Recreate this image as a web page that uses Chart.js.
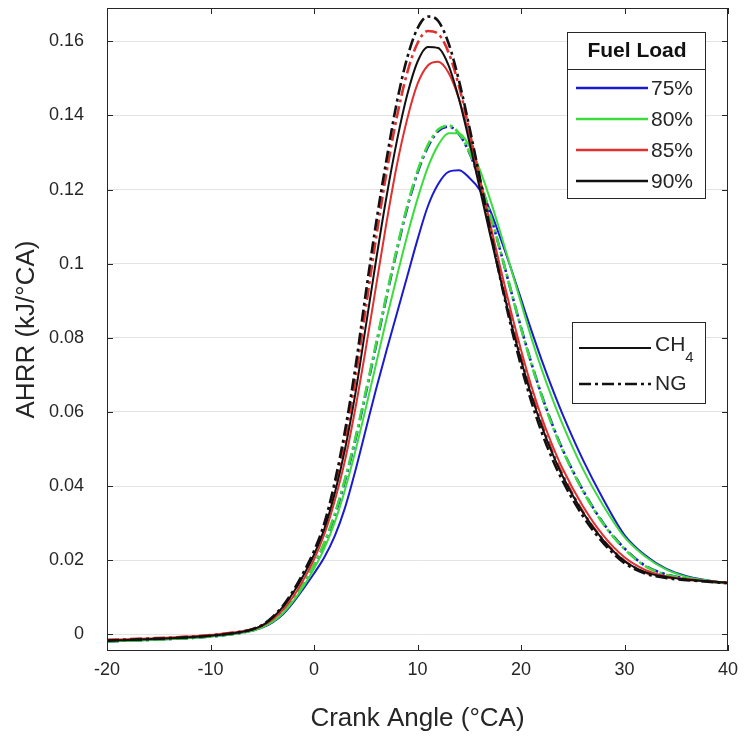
<!DOCTYPE html>
<html>
<head>
<meta charset="utf-8">
<script src="https://cdn.jsdelivr.net/npm/chart.js@4.4.0/dist/chart.umd.min.js"></script>
<style>
html, body { margin: 0; padding: 0; background: #fff; }
</style>
</head>
<body>
<canvas id="myChart" width="747" height="738"></canvas>
<script>
var crankAngle = [-20, -16, -12, -10, -8, -6, -5, -4, -3, -2, -1, 0, 1, 2, 3, 4, 5, 6, 7, 8, 9, 10,
    11, 12, 13, 14, 15, 16, 17, 18, 19, 20, 21, 22, 23, 24, 26, 28, 30, 32, 34, 36, 38, 40];

var ch4_75 = [-0.0019, -0.0015, -0.001, -0.0006, 0.0, 0.001, 0.0018, 0.0032, 0.0054, 0.0086, 0.0124, 0.0164, 0.0208, 0.0265, 0.0342, 0.0442, 0.0552, 0.0662, 0.0765, 0.0865, 0.0965, 0.1065,
    0.1155, 0.1215, 0.1248, 0.1252, 0.1232, 0.120, 0.1145, 0.107, 0.099, 0.0905, 0.082, 0.074, 0.0665, 0.0595, 0.047, 0.0362, 0.0268, 0.0213, 0.0177, 0.0157, 0.0146, 0.0138];
var ch4_80 = [-0.0019, -0.0015, -0.001, -0.0006, 0.0, 0.001, 0.0019, 0.0034, 0.0057, 0.009, 0.013, 0.0177, 0.0232, 0.0302, 0.039, 0.0495, 0.061, 0.073, 0.085, 0.0965, 0.1075, 0.1175,
    0.126, 0.132, 0.1352, 0.1352, 0.1318, 0.1255, 0.1175, 0.1085, 0.099, 0.0895, 0.080, 0.0715, 0.0638, 0.0568, 0.0445, 0.0345, 0.0262, 0.021, 0.0175, 0.0155, 0.0145, 0.0138];
var ch4_85 = [-0.0015, -0.0011, -0.0006, -0.0002, 0.0004, 0.0013, 0.0023, 0.004, 0.0066, 0.0102, 0.0148, 0.0202, 0.027, 0.036, 0.047, 0.061, 0.077, 0.094, 0.111, 0.1265, 0.139, 0.1485,
    0.1535, 0.1545, 0.1515, 0.1445, 0.1345, 0.123, 0.111, 0.099, 0.0875, 0.0768, 0.067, 0.0585, 0.0512, 0.0448, 0.0345, 0.0265, 0.0208, 0.0174, 0.0157, 0.0149, 0.0143, 0.0139];
var ch4_90 = [-0.0017, -0.0013, -0.0008, -0.0004, 0.0002, 0.0013, 0.0024, 0.0045, 0.0074, 0.0113, 0.016, 0.0215, 0.0285, 0.038, 0.050, 0.065, 0.083, 0.101, 0.118, 0.133, 0.1455, 0.1545,
    0.1585, 0.1582, 0.1535, 0.1445, 0.133, 0.1205, 0.108, 0.096, 0.0845, 0.074, 0.0645, 0.0562, 0.049, 0.0428, 0.0328, 0.0252, 0.0198, 0.0168, 0.0155, 0.0148, 0.0143, 0.0139];
var ng_75 = [-0.0019, -0.0015, -0.001, -0.0006, 0.0, 0.001, 0.002, 0.0036, 0.006, 0.0093, 0.0135, 0.0185, 0.0245, 0.032, 0.0415, 0.0525, 0.065, 0.078, 0.091, 0.1035, 0.115, 0.1245,
    0.1315, 0.1358, 0.137, 0.135, 0.13, 0.1225, 0.1135, 0.1035, 0.093, 0.0828, 0.0732, 0.0645, 0.0568, 0.050, 0.0388, 0.0298, 0.0232, 0.0185, 0.0162, 0.015, 0.0143, 0.0138];
var ng_80 = [-0.0019, -0.0015, -0.001, -0.0006, 0.0, 0.001, 0.002, 0.0036, 0.006, 0.0094, 0.0137, 0.0187, 0.0248, 0.0325, 0.042, 0.053, 0.0655, 0.0785, 0.0915, 0.104, 0.1155, 0.125,
    0.132, 0.1362, 0.1373, 0.1352, 0.1302, 0.1225, 0.1135, 0.1035, 0.093, 0.0826, 0.073, 0.0643, 0.0565, 0.0498, 0.0386, 0.0296, 0.023, 0.0184, 0.0161, 0.015, 0.0143, 0.0138];
var ng_85 = [-0.0015, -0.0011, -0.0006, -0.0002, 0.0004, 0.0014, 0.0025, 0.0045, 0.0074, 0.0113, 0.0162, 0.0218, 0.029, 0.0395, 0.0525, 0.069, 0.088, 0.107, 0.1245, 0.1395, 0.1515, 0.1595,
    0.1628, 0.162, 0.157, 0.148, 0.136, 0.123, 0.110, 0.0975, 0.0855, 0.0748, 0.0652, 0.0568, 0.0495, 0.0432, 0.033, 0.0253, 0.0198, 0.0167, 0.0154, 0.0148, 0.0143, 0.0139];
var ng_90 = [-0.0017, -0.0013, -0.0008, -0.0004, 0.0002, 0.0013, 0.0025, 0.0047, 0.0077, 0.0118, 0.0168, 0.0225, 0.030, 0.041, 0.055, 0.072, 0.092, 0.111, 0.128, 0.1435, 0.1555, 0.1635,
    0.1667, 0.1655, 0.1595, 0.1495, 0.137, 0.1235, 0.1095, 0.096, 0.0835, 0.0725, 0.0628, 0.0545, 0.0475, 0.0415, 0.0318, 0.0245, 0.0192, 0.0164, 0.0152, 0.0146, 0.0142, 0.0138];

var xTicks = [-20, -10, 0, 10, 20, 30, 40];
var yTicks = [0, 0.02, 0.04, 0.06, 0.08, 0.1, 0.12, 0.14, 0.16];

var loadLabels = ['75%', '80%', '85%', '90%'];
var loadColors = ['#1a1ad0', '#3ddc3d', '#e03030', '#111111'];
var fuelLabels = ['CH4', 'NG'];
var dashDot = [12, 4, 3, 4];

var FONT = '"Liberation Sans", Arial, sans-serif';

function pts(ys) {
    return ys.map(function(y, i) { return { x: crankAngle[i], y: y }; });
}

function line(label, ys, color, dashed) {
    return {
        label: label,
        data: pts(ys),
        borderColor: color,
        borderWidth: dashed ? 2.6 : 2,
        borderDash: dashed ? dashDot : [],
        pointRadius: 0,
        fill: false,
        cubicInterpolationMode: 'monotone'
    };
}

// axes box, inward ticks and the two legend boxes
var frame = {
    id: 'frame',
    afterDraw: function(chart) {
        var ctx = chart.ctx;
        var a = chart.chartArea;
        var xs = chart.scales.x, ys = chart.scales.y;
        ctx.save();
        ctx.strokeStyle = '#262626';
        ctx.lineWidth = 1;
        ctx.strokeRect(a.left + 0.5, a.top + 0.5, a.right - a.left - 1, a.bottom - a.top - 1);
        ctx.beginPath();
        xTicks.forEach(function(v) {
            var px = Math.round(xs.getPixelForValue(v)) + 0.5;
            ctx.moveTo(px, a.bottom); ctx.lineTo(px, a.bottom - 6);
            ctx.moveTo(px, a.top); ctx.lineTo(px, a.top + 6);
        });
        yTicks.forEach(function(v) {
            var py = Math.round(ys.getPixelForValue(v)) + 0.5;
            ctx.moveTo(a.left, py); ctx.lineTo(a.left + 6, py);
            ctx.moveTo(a.right, py); ctx.lineTo(a.right - 6, py);
        });
        ctx.stroke();

        // Fuel Load legend
        var bx = 567, by = 32, bw = 138, bh = 166;
        ctx.fillStyle = '#fff';
        ctx.fillRect(bx, by, bw, bh);
        ctx.strokeStyle = '#262626';
        ctx.strokeRect(bx + 0.5, by + 0.5, bw, bh);
        ctx.beginPath();
        ctx.moveTo(bx, by + 37.5); ctx.lineTo(bx + bw, by + 37.5);
        ctx.stroke();
        ctx.fillStyle = '#111';
        ctx.font = 'bold 21px ' + FONT;
        ctx.textAlign = 'center';
        ctx.textBaseline = 'middle';
        ctx.fillText('Fuel Load', bx + bw / 2 + 1, by + 19);
        ctx.font = '21px ' + FONT;
        ctx.textAlign = 'left';
        loadLabels.forEach(function(lab, i) {
            var ly = 88 + i * 31;
            ctx.strokeStyle = loadColors[i];
            ctx.lineWidth = 2.5;
            ctx.beginPath();
            ctx.moveTo(576, ly); ctx.lineTo(648, ly);
            ctx.stroke();
            ctx.fillStyle = '#262626';
            ctx.fillText(lab, 651, ly + 1);
        });

        // fuel type legend
        var cx = 572, cy = 322, cw = 133, ch = 81;
        ctx.fillStyle = '#fff';
        ctx.fillRect(cx, cy, cw, ch);
        ctx.strokeStyle = '#262626';
        ctx.lineWidth = 1;
        ctx.strokeRect(cx + 0.5, cy + 0.5, cw, ch);
        ctx.strokeStyle = '#111';
        ctx.lineWidth = 2;
        ctx.beginPath();
        ctx.moveTo(579, 348); ctx.lineTo(651, 348);
        ctx.stroke();
        ctx.setLineDash(dashDot);
        ctx.lineWidth = 2.4;
        ctx.beginPath();
        ctx.moveTo(579, 384); ctx.lineTo(651, 384);
        ctx.stroke();
        ctx.setLineDash([]);
        ctx.fillStyle = '#262626';
        ctx.fillText(fuelLabels[0].slice(0, 2), 655, 345);
        var w = ctx.measureText('CH').width;
        ctx.font = '15px ' + FONT;
        ctx.fillText(fuelLabels[0].slice(2), 655 + w, 358);
        ctx.font = '21px ' + FONT;
        ctx.fillText(fuelLabels[1], 655, 384);
        ctx.restore();
    }
};

var ctx = document.getElementById('myChart').getContext('2d');
var myChart = new Chart(ctx, {
    type: 'line',
    data: {
        datasets: [
            line('CH4 75%', ch4_75, loadColors[0], false),
            line('NG 75%', ng_75, loadColors[0], true),
            line('CH4 80%', ch4_80, loadColors[1], false),
            line('NG 80%', ng_80, loadColors[1], true),
            line('CH4 85%', ch4_85, loadColors[2], false),
            line('NG 85%', ng_85, loadColors[2], true),
            line('CH4 90%', ch4_90, loadColors[3], false),
            line('NG 90%', ng_90, loadColors[3], true)
        ].reverse()
    },
    options: {
        responsive: false,
        animation: false,
        layout: { padding: { top: 8, right: 19, left: 0, bottom: 0 } },
        plugins: { legend: { display: false }, tooltip: { enabled: false } },
        scales: {
            x: {
                type: 'linear',
                min: -20,
                max: 40,
                afterBuildTicks: function(s) { s.ticks = xTicks.map(function(v) { return { value: v }; }); },
                afterFit: function(s) { s.height = 87; s.paddingLeft = 0; s.paddingRight = 0; },
                grid: { display: false, drawTicks: false },
                border: { display: false },
                ticks: {
                    padding: 8,
                    color: '#262626',
                    font: { family: FONT, size: 18 },
                    maxRotation: 0,
                    callback: function(v) { return String(v); }
                },
                title: {
                    display: true,
                    text: 'Crank Angle (°CA)',
                    color: '#262626',
                    font: { family: FONT, size: 26 },
                    padding: { top: 0, bottom: 4 }
                }
            },
            y: {
                min: -0.0045,
                max: 0.169,
                afterBuildTicks: function(s) { s.ticks = yTicks.map(function(v) { return { value: v }; }); },
                afterFit: function(s) { s.width = 107; s.paddingTop = 0; s.paddingBottom = 0; },
                grid: { color: '#e3e3e3', drawTicks: false },
                border: { display: false },
                ticks: {
                    padding: 23,
                    color: '#262626',
                    font: { family: FONT, size: 18 },
                    callback: function(v) { return String(v); }
                },
                title: {
                    display: true,
                    text: 'AHRR (kJ/°CA)',
                    color: '#262626',
                    font: { family: FONT, size: 26 },
                    padding: { top: 11, bottom: 0 }
                }
            }
        }
    },
    plugins: [frame]
});
</script>
</body>
</html>
